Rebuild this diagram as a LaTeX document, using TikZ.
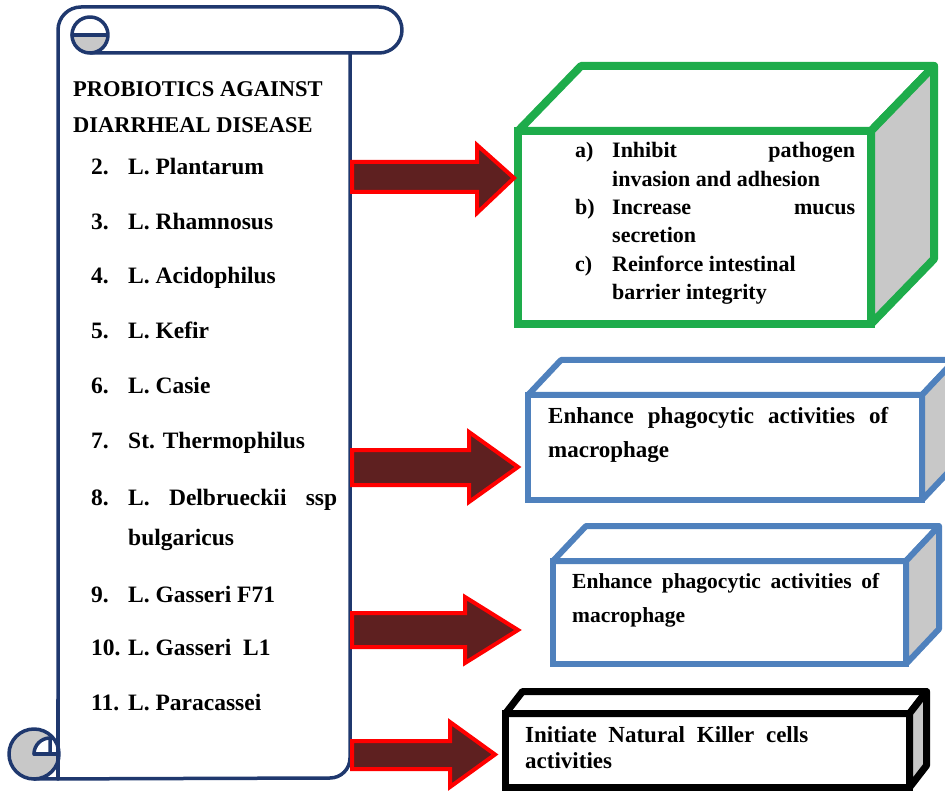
\documentclass[tikz,border=0pt]{standalone}
\usepackage{fontspec}
\setmainfont{Liberation Serif}
\definecolor{navy}{RGB}{31,56,110}
\definecolor{curlgrey}{RGB}{200,200,200}
\definecolor{arrowfill}{RGB}{94,32,32}
\definecolor{boxgreen}{RGB}{30,172,75}
\definecolor{boxblue}{RGB}{79,129,189}
\definecolor{facegrey}{RGB}{200,200,200}
\begin{document}
\begin{tikzpicture}[x=1pt,y=-1pt,
  scrollline/.style={draw=navy, line width=3.5pt, line join=round, line cap=round},
  blockarrow/.style={fill=arrowfill, draw=red, line width=4pt, line join=miter},
  listtxt/.style={anchor=base west, inner sep=0pt, font=\fontsize{23.5}{28}\selectfont\bfseries},
  headtxt/.style={anchor=base west, inner sep=0pt, font=\fontsize{22.5}{28}\selectfont\bfseries},
  greentxt/.style={anchor=base west, inner sep=0pt, font=\fontsize{22}{28.5}\selectfont\bfseries},
  boxtxt/.style={anchor=base west, inner sep=0pt, font=\fontsize{23}{33}\selectfont\bfseries},
  frontface/.style={draw=#1, fill=white, anchor=north west, inner sep=0pt, outer sep=0pt, line join=miter},
  sideface/.style={draw=#1, fill=facegrey, line join=round},
  topface/.style={draw=#1, fill=white, line join=round}
]
\useasboundingbox (0,0) rectangle (945,791);

% ---------- scroll ----------
\path[fill=white] (58,53) -- (350,53) -- (350,758) arc[start angle=0, end angle=90, radius=20] -- (58,778) -- cycle;
% top roll
\draw[scrollline] (58,778) -- (58,30) arc[start angle=180, end angle=270, radius=23] -- (379,7)
  arc[start angle=270, end angle=450, radius=23] -- (90,53);
% body right side and bottom
\draw[scrollline] (350,53) -- (350,758) arc[start angle=0, end angle=90, radius=20] -- (34,779);
% top curl
\coordinate (tc) at (90,35);
\fill[white] (tc) circle[radius=18];
\begin{scope}
  \clip (tc) circle[radius=18];
  \fill[curlgrey] (70,35) rectangle (110,55);
\end{scope}
\draw[scrollline] (tc) circle[radius=18];
\draw[scrollline] (72,35) -- (106,35);
% bottom curl
\coordinate (bc) at (34,754);
\fill[curlgrey] (bc) circle[radius=25];
\fill[white] (34,754) arc[start angle=180, end angle=270, radius=16] -- (58,738) -- (58,754) -- cycle;
\draw[scrollline] (bc) circle[radius=25];
\draw[scrollline] (34,754) arc[start angle=180, end angle=270, radius=16] -- (50,754);
\draw[scrollline] (34,754) -- (58,754);
\draw[scrollline] (58,700) -- (58,779);

% ---------- scroll text ----------
\node[headtxt] (h1) at (73,97) {PROBIOTICS AGAINST};
\node[headtxt] (h2) at (73,133) {DIARRHEAL DISEASE};
\foreach \k/\n/\t/\y in {a/2./L. Plantarum/175, b/3./L. Rhamnosus/230, c/4./L. Acidophilus/284,
  d/5./L. Kefir/339, e/6./L. Casie/393, f/7./St. Thermophilus/448, h/9./L. Gasseri F71/602,
  i/10./L. Gasseri~~L1/655, j/11./L. Paracassei/710}{
  \node[listtxt] (n\k) at (91,\y) {\n};
  \node[listtxt] (t\k) at (128,\y) {\t};
}
\node[listtxt] (ng) at (91,505) {8.};
\node[listtxt] (tg) at (128,505) {\makebox[209pt][s]{L. Delbrueckii ssp}};
\node[listtxt] (tg2) at (128,545) {bulgaricus};

% ---------- boxes ----------
% green
\node[frontface=boxgreen, line width=8pt, minimum width=353pt, minimum height=193pt] (gbox) at (518,131) {};
\draw[topface=boxgreen, line width=8pt] (gbox.north west) -- ++(63,-65) -- ++(353,0) -- (gbox.north east) -- cycle;
\draw[sideface=boxgreen, line width=8pt] (gbox.north east) -- ++(63,-65) -- ++(0,193) -- (gbox.south east) -- cycle;
\node[greentxt] (ga) at (575,158) {a)};
\node[greentxt] (ga1) at (612,158) {\makebox[243pt][s]{Inhibit pathogen}};
\node[greentxt] (ga2) at (612,187) {invasion and adhesion};
\node[greentxt] (gb) at (575,215) {b)};
\node[greentxt] (gb1) at (612,215) {\makebox[243pt][s]{Increase mucus}};
\node[greentxt] (gb2) at (612,243) {secretion};
\node[greentxt] (gc) at (575,272) {c)};
\node[greentxt] (gc1) at (612,272) {Reinforce intestinal};
\node[greentxt] (gc2) at (612,300) {barrier integrity};

% blue 1
\node[frontface=boxblue, line width=6pt, minimum width=394pt, minimum height=105pt] (b1box) at (528,395) {};
\draw[topface=boxblue, line width=6pt] (b1box.north west) -- ++(33,-35) -- ++(394,0) -- (b1box.north east) -- cycle;
\draw[sideface=boxblue, line width=6pt] (b1box.north east) -- ++(33,-35) -- ++(0,105) -- (b1box.south east) -- cycle;
\node[boxtxt] (b1a) at (548,424) {\makebox[340pt][s]{Enhance phagocytic activities of}};
\node[boxtxt] (b1b) at (548,457) {macrophage};

% blue 2
\node[frontface=boxblue, line width=6pt, minimum width=353pt, minimum height=103pt] (b2box) at (553,561) {};
\draw[topface=boxblue, line width=6pt] (b2box.north west) -- ++(33,-35) -- ++(353,0) -- (b2box.north east) -- cycle;
\draw[sideface=boxblue, line width=6pt] (b2box.north east) -- ++(33,-35) -- ++(0,103) -- (b2box.south east) -- cycle;
\node[boxtxt, font=\fontsize{21.5}{30}\selectfont\bfseries] (b2a) at (572,588) {\makebox[307pt][s]{Enhance phagocytic activities of}};
\node[boxtxt, font=\fontsize{21.5}{30}\selectfont\bfseries] (b2b) at (572,622) {macrophage};

% black
\node[frontface=black, line width=7pt, minimum width=404pt, minimum height=74pt] (kbox) at (505.5,713.5) {};
\draw[topface=black, line width=7pt] (kbox.north west) -- ++(17,-22) -- ++(404,0) -- (kbox.north east) -- cycle;
\draw[sideface=black, line width=7pt] (kbox.north east) -- ++(17,-22) -- ++(0,74) -- (kbox.south east) -- cycle;
\node[boxtxt] (k1) at (525,742) {\makebox[283pt][s]{Initiate Natural Killer cells}};
\node[boxtxt] (k2) at (525,768) {activities};

% ---------- arrows ----------
\draw[blockarrow] (352,162) -- (477,162) -- (477,145) -- (514,178) -- (477,213) -- (477,192) -- (352,192) -- cycle;
\draw[blockarrow] (352,450) -- (469,450) -- (469,432) -- (518,467) -- (469,502) -- (469,485) -- (352,485) -- cycle;
\draw[blockarrow] (352,613) -- (465,613) -- (465,597) -- (518,630) -- (465,663) -- (465,647) -- (352,647) -- cycle;
\draw[blockarrow] (352,741) -- (450,741) -- (450,722) -- (495,754.5) -- (450,787) -- (450,769) -- (352,769) -- cycle;
\end{tikzpicture}
\end{document}
